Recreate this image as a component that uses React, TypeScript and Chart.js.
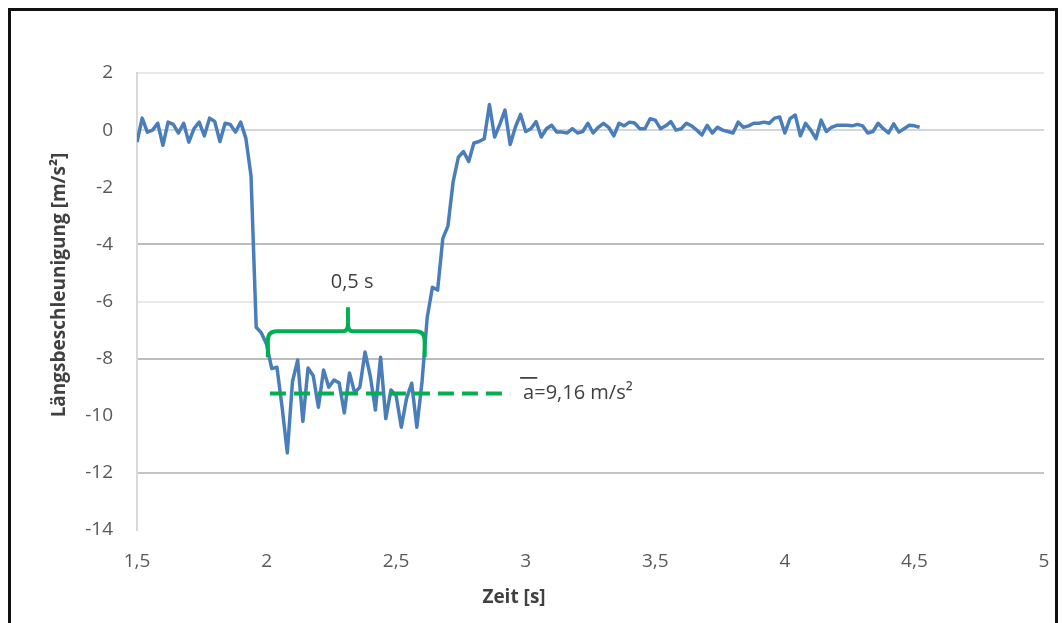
import React, { useEffect, useRef } from "react";
import { Chart, registerables } from "chart.js";

Chart.register(...registerables);

// ---- data ----
const times = [
  1.5, 1.52, 1.54, 1.56, 1.58, 1.6, 1.62, 1.64, 1.66, 1.68,
  1.7, 1.72, 1.74, 1.76, 1.78, 1.8, 1.82, 1.84, 1.86, 1.88,
  1.9, 1.92, 1.94, 1.96, 1.98, 2.0, 2.02, 2.04, 2.06, 2.08,
  2.1, 2.12, 2.14, 2.16, 2.18, 2.2, 2.22, 2.24, 2.26, 2.28,
  2.3, 2.32, 2.34, 2.36, 2.38, 2.4, 2.42, 2.44, 2.46, 2.48,
  2.5, 2.52, 2.54, 2.56, 2.58, 2.6, 2.62, 2.64, 2.66, 2.68,
  2.7, 2.72, 2.74, 2.76, 2.78, 2.8, 2.82, 2.84, 2.86, 2.88,
  2.9, 2.92, 2.94, 2.96, 2.98, 3.0, 3.02, 3.04, 3.06, 3.08,
  3.1, 3.12, 3.14, 3.16, 3.18, 3.2, 3.22, 3.24, 3.26, 3.28,
  3.3, 3.32, 3.34, 3.36, 3.38, 3.4, 3.42, 3.44, 3.46, 3.48,
  3.5, 3.52, 3.54, 3.56, 3.58, 3.6, 3.62, 3.64, 3.66, 3.68,
  3.7, 3.72, 3.74, 3.76, 3.78, 3.8, 3.82, 3.84, 3.86, 3.88,
  3.9, 3.92, 3.94, 3.96, 3.98, 4.0, 4.02, 4.04, 4.06, 4.08,
  4.1, 4.12, 4.14, 4.16, 4.18, 4.2, 4.22, 4.24, 4.26, 4.28,
  4.3, 4.32, 4.34, 4.36, 4.38, 4.4, 4.42, 4.44, 4.46, 4.48,
  4.5, 4.52,
];

const acceleration = [
  -0.42, 0.42, -0.07, 0.0, 0.24, -0.53, 0.28, 0.2, -0.1, 0.24,
  -0.42, 0.05, 0.28, -0.2, 0.42, 0.3, -0.4, 0.24, 0.2, -0.07,
  0.28, -0.28, -1.6, -6.9, -7.1, -7.5, -8.35, -8.3, -9.7, -11.3,
  -8.8, -8.05, -10.2, -8.33, -8.6, -9.7, -8.4, -9.0, -8.75, -8.85,
  -9.9, -8.5, -9.2, -9.0, -7.77, -8.6, -9.8, -7.95, -10.1, -9.1,
  -9.3, -10.4, -9.4, -8.86, -10.4, -8.8, -6.55, -5.5, -5.6, -3.8,
  -3.35, -1.8, -0.95, -0.75, -1.1, -0.45, -0.4, -0.3, 0.9, -0.24,
  0.2, 0.7, -0.5, 0.1, 0.55, -0.05, 0.05, 0.3, -0.24, 0.05,
  0.17, -0.07, -0.07, -0.1, 0.05, -0.1, -0.05, 0.24, -0.1, 0.1,
  0.24, 0.1, -0.2, 0.24, 0.15, 0.28, 0.25, 0.05, 0.05, 0.4,
  0.35, 0.05, 0.15, 0.3, 0.0, 0.05, 0.24, 0.15, 0.0, -0.17,
  0.17, -0.1, 0.1, 0.0, -0.05, -0.1, 0.28, 0.1, 0.15, 0.24,
  0.24, 0.28, 0.24, 0.42, 0.46, -0.1, 0.4, 0.53, -0.2, 0.24,
  0.0, -0.3, 0.35, -0.05, 0.1, 0.17, 0.17, 0.17, 0.15, 0.2,
  0.15, -0.1, -0.05, 0.24, 0.05, -0.1, 0.22, -0.07, 0.05, 0.17,
  0.15, 0.1,
];

// axis ranges / tick steps
const xRange = [1.5, 5];
const xStep = 0.5;
const yRange = [-14, 2];
const yStep = 2;

// axis titles
const xTitle = "Zeit [s]";
const yTitle = "Längsbeschleunigung [m/s²]";

// annotation: bracket over the braking phase
const bracketSpan = [2.005, 2.61]; // s
const bracketTipTime = 2.314;
const bracketLevels = { top: -7.04, foot: -7.95, tip: -6.2 };
const bracketLabel = "0,5 s";
const bracketLabelPos = [2.33, -5.32];

// annotation: mean deceleration
const meanSpan = [2.013, 2.94];
const meanLevel = -9.22;
const meanLabel = "a=9,16 m/s²";
const meanLabelPos = [2.99, -9.2];

const FONT = "'Open Sans', sans-serif";
const GREEN = "#00b050";

const gridColor = (v: number) => {
  if (v === -4 || v === -8) return "#bdbdbd";
  if (v === -12) return "#c4c4c4";
  if (v === 0) return "#d6d6d6";
  if (v === 2 || v === -6) return "#e8e8e8";
  return "rgba(0,0,0,0)";
};

const annotationPlugin = {
  id: "annotations",
  afterDatasetsDraw(chart: any) {
    const { ctx } = chart;
    const xs = chart.scales.x;
    const ys = chart.scales.y;
    ctx.save();

    // curly bracket
    const x1 = xs.getPixelForValue(bracketSpan[0]);
    const x2 = xs.getPixelForValue(bracketSpan[1]);
    const xm = xs.getPixelForValue(bracketTipTime);
    const yTop = ys.getPixelForValue(bracketLevels.top);
    const yFoot = ys.getPixelForValue(bracketLevels.foot);
    const yTip = ys.getPixelForValue(bracketLevels.tip);
    const r = 9;
    ctx.strokeStyle = GREEN;
    ctx.lineWidth = 4;
    ctx.lineJoin = "round";
    ctx.lineCap = "butt";
    ctx.beginPath();
    ctx.moveTo(x1, yFoot);
    ctx.lineTo(x1, yTop + r);
    ctx.quadraticCurveTo(x1, yTop, x1 + r, yTop);
    ctx.lineTo(xm - 5, yTop);
    ctx.quadraticCurveTo(xm, yTop, xm, yTop - 7);
    ctx.lineTo(xm, yTip);
    ctx.moveTo(xm, yTop - 7);
    ctx.quadraticCurveTo(xm, yTop, xm + 5, yTop);
    ctx.lineTo(x2 - r, yTop);
    ctx.quadraticCurveTo(x2, yTop, x2, yTop + r);
    ctx.lineTo(x2, yFoot);
    ctx.stroke();

    // dashed mean line
    const yMean = ys.getPixelForValue(meanLevel);
    ctx.setLineDash([16, 8]);
    ctx.beginPath();
    ctx.moveTo(xs.getPixelForValue(meanSpan[0]), yMean);
    ctx.lineTo(xs.getPixelForValue(meanSpan[1]), yMean);
    ctx.stroke();
    ctx.setLineDash([]);

    // labels
    ctx.fillStyle = "#404040";
    ctx.font = `20px ${FONT}`;
    ctx.textBaseline = "middle";
    ctx.textAlign = "center";
    ctx.fillText(
      bracketLabel,
      xs.getPixelForValue(bracketLabelPos[0]),
      ys.getPixelForValue(bracketLabelPos[1])
    );
    const mx = xs.getPixelForValue(meanLabelPos[0]);
    const my = ys.getPixelForValue(meanLabelPos[1]);
    ctx.textAlign = "left";
    ctx.fillText(meanLabel, mx, my);
    const aw = ctx.measureText(meanLabel.charAt(0)).width;
    ctx.strokeStyle = "#202020";
    ctx.lineWidth = 1.5;
    ctx.beginPath();
    ctx.moveTo(mx - 3, my - 15);
    ctx.lineTo(mx + aw + 3, my - 15);
    ctx.stroke();
    ctx.restore();
  },
  afterDraw(chart: any) {
    const { ctx, chartArea } = chart;
    ctx.save();
    ctx.fillStyle = "#404040";
    ctx.font = `bold 19px ${FONT}`;
    ctx.textAlign = "center";
    ctx.textBaseline = "middle";
    ctx.fillText(xTitle, chartArea.left + 377, chartArea.bottom + 68);
    ctx.translate(49, chartArea.top + 212);
    ctx.rotate(-Math.PI / 2);
    ctx.fillText(yTitle, 0, 0);
    ctx.restore();
  },
};

export default function App() {
  const canvasRef = useRef<HTMLCanvasElement>(null);

  useEffect(() => {
    if (!canvasRef.current) return;
    const points = times.map((t, i) => ({ x: t, y: acceleration[i] }));
    const chart = new Chart(canvasRef.current, {
      type: "line",
      data: {
        datasets: [
          {
            label: "Längsbeschleunigung",
            data: points,
            borderColor: "#4a7ebb",
            backgroundColor: "#4a7ebb",
            borderWidth: 3.5,
            pointRadius: 0,
            tension: 0,
            borderJoinStyle: "round",
            fill: false,
          },
        ],
      },
      options: {
        responsive: false,
        animation: false,
        layout: { padding: { top: 62, right: 11, left: 0, bottom: 0 } },
        plugins: {
          legend: { display: false },
          tooltip: { enabled: false },
          title: { display: false },
        },
        scales: {
          x: {
            type: "linear",
            min: xRange[0],
            max: xRange[1],
            afterFit: (s: any) => {
              s.height = 93;
              s.paddingLeft = 0;
              s.paddingRight = 0;
            },
            ticks: {
              stepSize: xStep,
              padding: 20,
              color: "#595959",
              font: { family: FONT, size: 19 },
              maxRotation: 0,
              callback: (v: any) => String(Math.round(Number(v) * 10) / 10).replace(".", ","),
            },
            grid: { display: false, drawTicks: false },
            border: { display: false },
          },
          y: {
            type: "linear",
            min: yRange[0],
            max: yRange[1],
            afterFit: (s: any) => {
              s.width = 126;
            },
            ticks: {
              stepSize: yStep,
              padding: 24,
              color: "#595959",
              font: { family: FONT, size: 19 },
            },
            grid: {
              drawTicks: false,
              lineWidth: 2,
              color: (c: any) => gridColor(c.tick ? c.tick.value : NaN),
            },
            border: { display: true, color: "#d9d9d9", width: 2 },
          },
        },
      },
      plugins: [annotationPlugin],
    });
    return () => chart.destroy();
  }, []);

  return (
    <div
      style={{
        position: "fixed",
        left: 8,
        top: 8,
        width: 1050,
        height: 615,
        boxSizing: "border-box",
        borderTop: "3px solid #111",
        borderLeft: "3px solid #111",
        borderRight: "3px solid #111",
        background: "#fff",
      }}
    >
      <canvas ref={canvasRef} width={1044} height={612} style={{ display: "block" }} />
    </div>
  );
}
